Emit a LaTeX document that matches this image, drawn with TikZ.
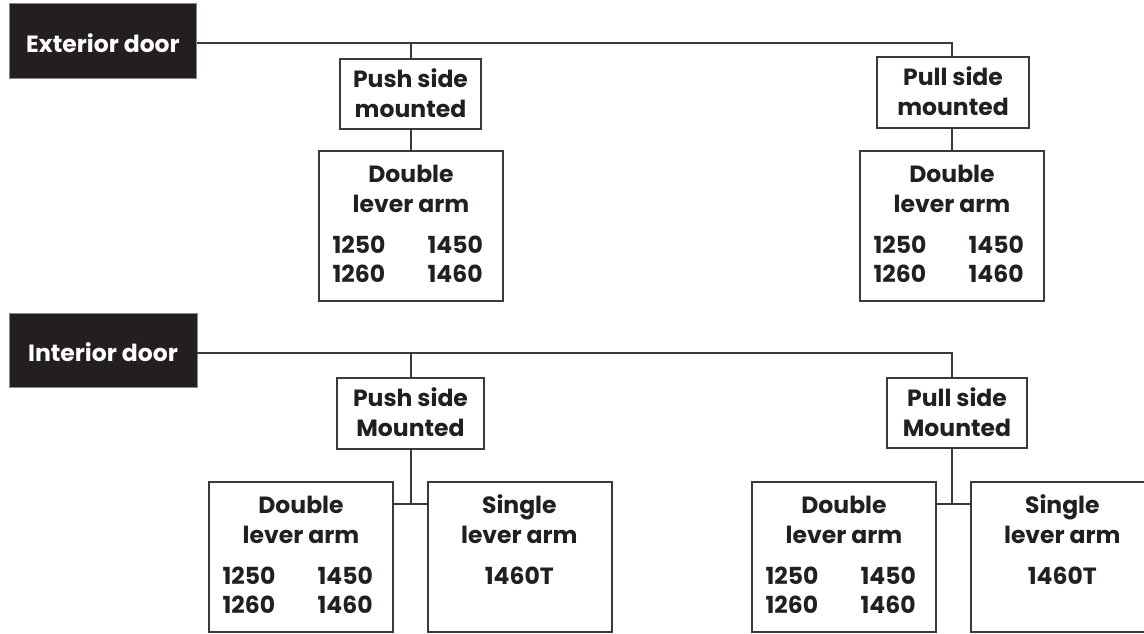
\documentclass[tikz,border=0pt]{standalone}
\usepackage{fontspec}
\setmainfont{Poppins}
\usetikzlibrary{calc}
\definecolor{ink}{HTML}{231F20}
\definecolor{edge}{HTML}{3A3A3A}
\newcommand{\dbltext}[1]{%
 \node[txt,anchor=base] (#1-a) at ($(#1.north)+(0,32)$) {Double};
 \node[txt,anchor=base] (#1-b) at ($(#1.north)+(0,62)$) {lever arm};
 \node[txt,anchor=base west] (#1-c) at ($(#1.north west)+(14,103)$) {1250};
 \node[txt,anchor=base west] (#1-d) at ($(#1.north west)+(109,103)$) {1450};
 \node[txt,anchor=base west] (#1-e) at ($(#1.north west)+(14,132)$) {1260};
 \node[txt,anchor=base west] (#1-f) at ($(#1.north west)+(109,132)$) {1460};
}
\newcommand{\sgltext}[1]{%
 \node[txt,anchor=base] (#1-a) at ($(#1.north west)+(92,32)$) {Single};
 \node[txt,anchor=base] (#1-b) at ($(#1.north west)+(92,62)$) {lever arm};
 \node[txt,anchor=base] (#1-c) at ($(#1.north west)+(92,103)$) {1460T};
}
\newcommand{\hdrtext}[3]{%
 \node[txt,anchor=base] (#1-a) at ($(#1.north)+(0,29)$) {#2};
 \node[txt,anchor=base] (#1-b) at ($(#1.north)+(0,59)$) {#3};
}
\begin{document}
\begin{tikzpicture}[x=1pt,y=-1pt,
  fnt/.style={font=\fontsize{23.5}{30}\selectfont\bfseries},
  txt/.style={fnt,inner sep=0pt,text=ink},
  dark/.style={fill=ink,draw=edge!60,line width=0.6pt,inner sep=0pt},
  box/.style={draw=edge,line width=1.3pt,fill=white,inner sep=0pt},
  wire/.style={draw=edge,line width=1.2pt}]
\useasboundingbox (0,0) rectangle (1144,633);
\clip (0,0) rectangle (1144,633);
% exterior
\node[dark,minimum width=187pt,minimum height=75pt] (ext) at (103,40.5) {};
\node[fnt,anchor=base,inner sep=0pt,text=white] (ext-t) at (103,52) {Exterior door};
\node[box,minimum width=141pt,minimum height=70pt] (pushE) at (410.5,94) {};
\node[box,minimum width=152pt,minimum height=71pt] (pullE) at (953,92.5) {};
\node[box,minimum width=184pt,minimum height=150pt] (dblE1) at (411,226) {};
\node[box,minimum width=184pt,minimum height=150pt] (dblE2) at (952,226) {};
\coordinate (eR) at (952,43);
\coordinate (eL) at (411,43);
\draw[wire] (ext.east |- eR) -- (eR) -- (pullE.north -| eR);
\draw[wire] (eL) -- (pushE.north -| eL);
\draw[wire] (pushE.south -| eL) -- (dblE1.north -| eL);
\draw[wire] (pullE.south -| eR) -- (dblE2.north -| eR);
\hdrtext{pushE}{Push side}{mounted}
\hdrtext{pullE}{Pull side}{mounted}
\dbltext{dblE1}
\dbltext{dblE2}
% interior
\node[dark,minimum width=188pt,minimum height=74pt] (int) at (103,350) {};
\node[fnt,anchor=base,inner sep=0pt,text=white] (int-t) at (103,361) {Interior door};
\node[box,minimum width=147pt,minimum height=71pt] (pushI) at (410.5,413.5) {};
\node[box,minimum width=140pt,minimum height=70pt] (pullI) at (957,413) {};
\node[box,minimum width=184pt,minimum height=150pt] (dblI1) at (301,557) {};
\node[box,minimum width=184pt,minimum height=150pt] (sglI1) at (520,557) {};
\node[box,minimum width=184pt,minimum height=150pt] (dblI2) at (844,557) {};
\node[box,minimum width=210pt,minimum height=150pt] (sglI2) at (1076,557) {};
\coordinate (iR) at (952,353);
\coordinate (iL) at (411,353);
\coordinate (jL) at (411,504);
\coordinate (jR) at (952,504);
\draw[wire] (int.east |- iR) -- (iR) -- (pullI.north -| iR);
\draw[wire] (iL) -- (pushI.north -| iL);
\draw[wire] (pushI.south -| jL) -- (jL);
\draw[wire] (dblI1.east |- jL) -- (sglI1.west |- jL);
\draw[wire] (pullI.south -| jR) -- (jR);
\draw[wire] (dblI2.east |- jR) -- (sglI2.west |- jR);
\hdrtext{pushI}{Push side}{Mounted}
\hdrtext{pullI}{Pull side}{Mounted}
\dbltext{dblI1}
\sgltext{sglI1}
\dbltext{dblI2}
\sgltext{sglI2}
\end{tikzpicture}
\end{document}
